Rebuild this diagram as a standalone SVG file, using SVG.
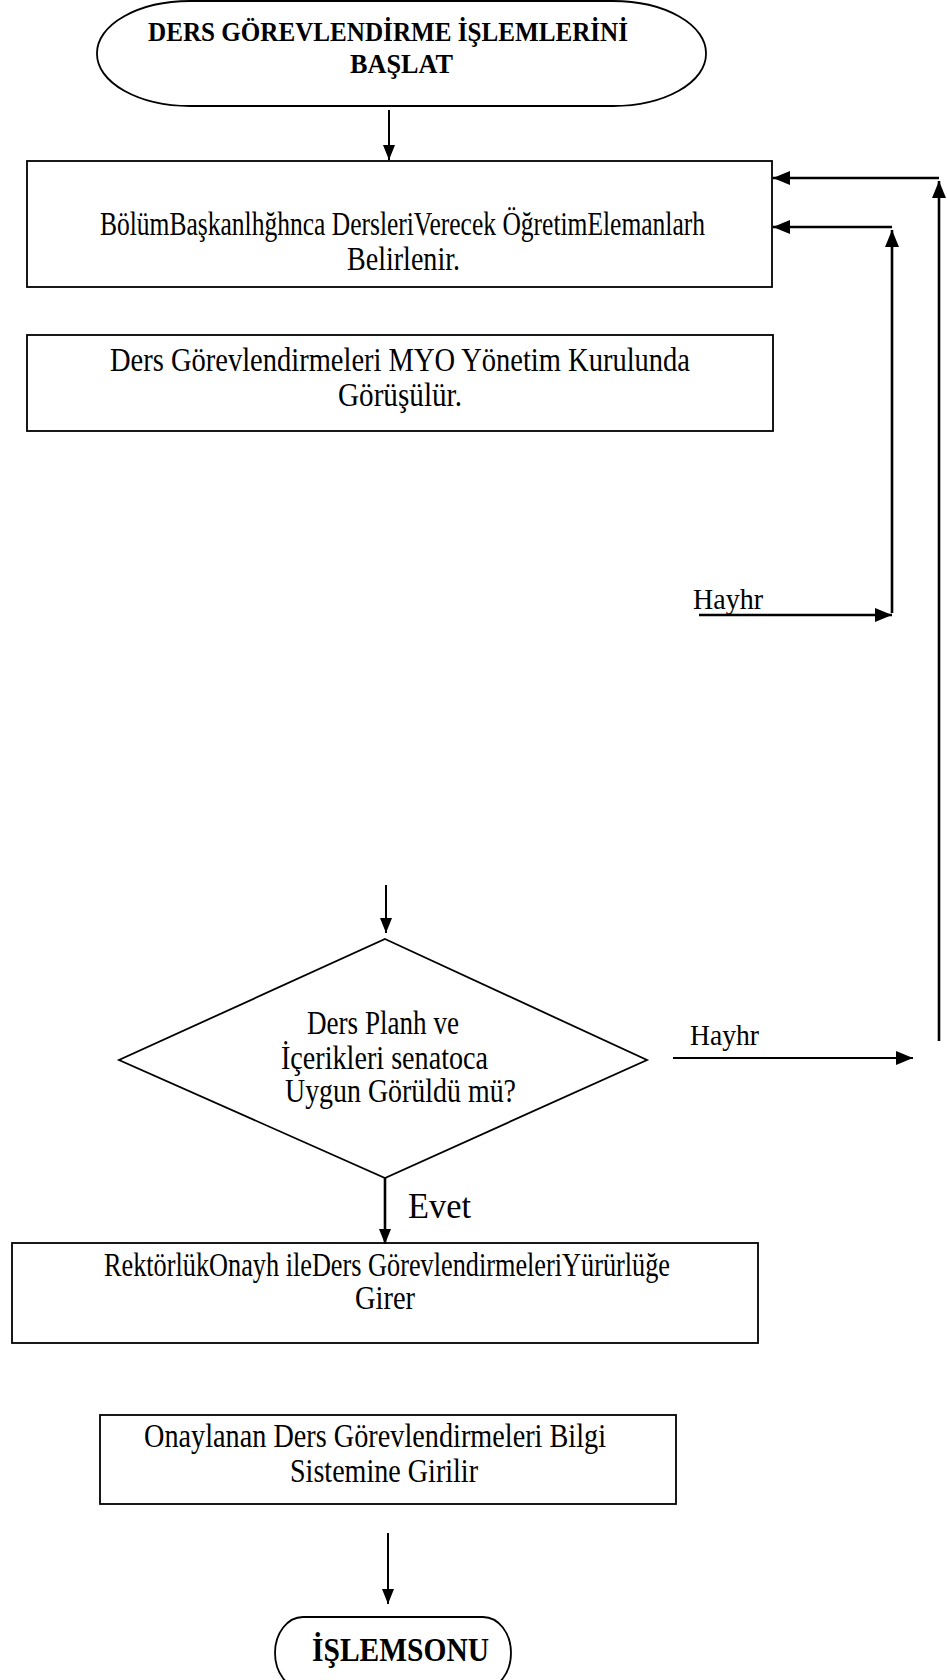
<svg xmlns="http://www.w3.org/2000/svg" width="947" height="1680" viewBox="0 0 947 1680">
<defs>
<style>
.shape{fill:#fff;stroke:#000;stroke-width:1.8}
.t{font-family:"Liberation Serif","Times New Roman",serif;font-size:33px;fill:#000}
.tt{font-family:"Liberation Serif","Times New Roman",serif;font-size:28px;font-weight:bold;fill:#000}
.te{font-family:"Liberation Serif","Times New Roman",serif;font-size:34px;font-weight:bold;fill:#000}
.lab{font-family:"Liberation Serif","Times New Roman",serif;font-size:30px;fill:#000}
.ev{font-family:"Liberation Serif","Times New Roman",serif;font-size:36px;fill:#000}
.c{fill:none;stroke:#000;stroke-width:2}
.cb{fill:none;stroke:#000;stroke-width:2.6}
</style>
<marker id="ah" markerUnits="userSpaceOnUse" markerWidth="15" markerHeight="12" refX="15" refY="6" orient="auto">
<path d="M0,0 L15,6 L0,12 z" fill="#000"/>
</marker>
<marker id="ahb" markerUnits="userSpaceOnUse" markerWidth="17" markerHeight="14" refX="17" refY="7" orient="auto">
<path d="M0,0 L17,7 L0,14 z" fill="#000"/>
</marker>
</defs>
<rect width="947" height="1680" fill="#fff"/>
<g id="start">
<rect class="shape" x="97" y="1" width="609" height="105" rx="93" ry="52"/>
<text class="tt" x="148" y="41" textLength="480" lengthAdjust="spacingAndGlyphs">DERS GÖREVLENDİRME İŞLEMLERİNİ</text>
<text class="tt" x="350" y="73" textLength="103" lengthAdjust="spacingAndGlyphs">BAŞLAT</text>
</g>
<g id="box1">
<rect class="shape" x="27" y="161" width="745" height="126"/>
<text class="t" x="100" y="235" textLength="605" lengthAdjust="spacingAndGlyphs">BölümBaşkanlhğhnca DersleriVerecek ÖğretimElemanlarh</text>
<text class="t" x="347" y="270" textLength="113" lengthAdjust="spacingAndGlyphs">Belirlenir.</text>
</g>
<g id="box2">
<rect class="shape" x="27" y="335" width="746" height="96"/>
<text class="t" x="110" y="371" textLength="580" lengthAdjust="spacingAndGlyphs">Ders Görevlendirmeleri MYO Yönetim Kurulunda</text>
<text class="t" x="338" y="406" textLength="124" lengthAdjust="spacingAndGlyphs">Görüşülür.</text>
</g>
<g id="decision">
<polygon class="shape" points="385,939 647,1060 385,1178 119,1060"/>
<text class="t" x="307" y="1034" textLength="152" lengthAdjust="spacingAndGlyphs">Ders Planh ve</text>
<text class="t" x="281" y="1069" textLength="207" lengthAdjust="spacingAndGlyphs">İçerikleri senatoca</text>
<text class="t" x="285" y="1102" textLength="231" lengthAdjust="spacingAndGlyphs">Uygun Görüldü mü?</text>
</g>
<g id="box3">
<rect class="shape" x="12" y="1243" width="746" height="100"/>
<text class="t" x="104" y="1276" textLength="566" lengthAdjust="spacingAndGlyphs">RektörlükOnayh ileDers GörevlendirmeleriYürürlüğe</text>
<text class="t" x="355" y="1309" textLength="60" lengthAdjust="spacingAndGlyphs">Girer</text>
</g>
<g id="box4">
<rect class="shape" x="100" y="1415" width="576" height="89"/>
<text class="t" x="144" y="1447" textLength="462" lengthAdjust="spacingAndGlyphs">Onaylanan Ders Görevlendirmeleri Bilgi</text>
<text class="t" x="290" y="1482" textLength="188" lengthAdjust="spacingAndGlyphs">Sistemine Girilir</text>
</g>
<g id="end">
<rect class="shape" x="275" y="1617" width="236" height="72" rx="28" ry="36"/>
<text class="te" x="312" y="1661" textLength="177" lengthAdjust="spacingAndGlyphs">İŞLEMSONU</text>
</g>
<g id="connectors">
<line class="c" x1="389" y1="110" x2="389" y2="160" marker-end="url(#ah)"/>
<line class="cb" x1="939" y1="1041" x2="939" y2="181" marker-end="url(#ahb)"/>
<line class="cb" x1="939" y1="178" x2="773" y2="178" marker-end="url(#ahb)"/>
<line class="cb" x1="892" y1="613" x2="892" y2="230" marker-end="url(#ahb)"/>
<line class="cb" x1="892" y1="227" x2="773" y2="227" marker-end="url(#ahb)"/>
<line class="cb" x1="699" y1="615" x2="892" y2="615" marker-end="url(#ahb)"/>
<line class="c" x1="386" y1="885" x2="386" y2="933" marker-end="url(#ah)"/>
<line class="c" x1="673" y1="1058" x2="913" y2="1058" marker-end="url(#ahb)"/>
<line class="cb" x1="385" y1="1178" x2="385" y2="1244" marker-end="url(#ah)"/>
<line class="c" x1="388" y1="1533" x2="388" y2="1604" marker-end="url(#ah)"/>
</g>
<g id="labels">
<text class="lab" x="693" y="609" textLength="70" lengthAdjust="spacingAndGlyphs">Hayhr</text>
<text class="lab" x="690" y="1045" textLength="69" lengthAdjust="spacingAndGlyphs">Hayhr</text>
<text class="ev" x="408" y="1218" textLength="63" lengthAdjust="spacingAndGlyphs">Evet</text>
</g>
</svg>
